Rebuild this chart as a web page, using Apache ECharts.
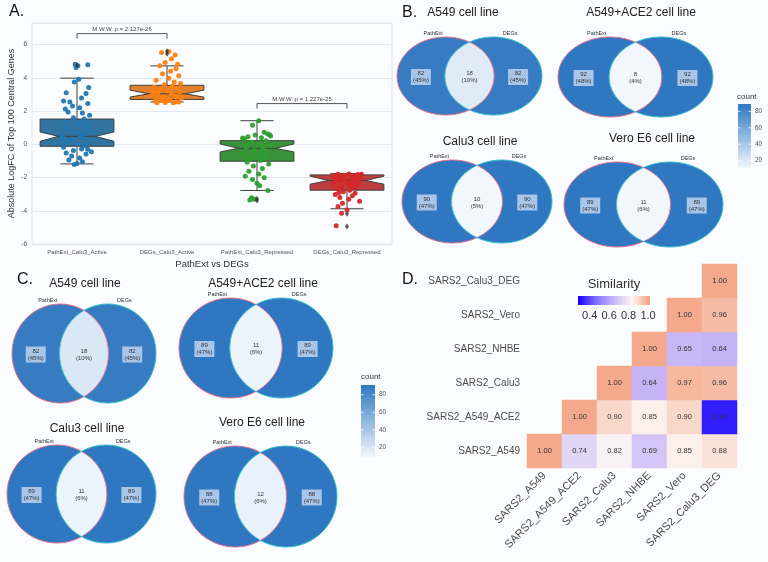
<!DOCTYPE html>
<html><head><meta charset="utf-8">
<script src="https://cdn.jsdelivr.net/npm/echarts@6/dist/echarts.min.js"></script>
<style>html,body{margin:0;padding:0;background:#fbfcfe}#c{width:768px;height:562px}</style>
</head><body><div id="c"></div>
<script>
// ---------------- Panel A data ----------------
const boxCategories = ['PathExt_Calu3_Active','DEGs_Calu3_Active','PathExt_Calu3_Repressed','DEGs_Calu3_Repressed'];
// [low whisker, q1, median, q3, high whisker, notch low, notch high]
const boxStats = [
  [-1.18, -0.12, 0.48, 1.52, 3.98, 0.18, 0.74],
  [2.55, 2.70, 3.04, 3.55, 4.72, 2.84, 3.26],
  [-2.78, -1.02, -0.24, 0.22, 1.42, -0.46, 0.02],
  [-3.88, -2.76, -2.18, -1.84, -1.76, -2.40, -1.92]
];
const boxOutliers = [[0,4.75],[1,5.6],[1,5.45],[2,-3.28],[2,-3.38],[3,-4.18],[3,-4.95]];
const stripBlue = [[-0.02,4.82],[0.01,4.72],[-0.01,4.62],[0.12,4.78],[0.02,3.92],[-0.03,3.75],[0.13,3.42],[-0.12,3.1],[0.1,3.05],[0.05,2.78],[-0.15,2.6],[-0.08,2.55],[0.12,2.45],[-0.05,2.3],[0.03,2.2],[-0.13,2.12],[-0.1,1.95],[0.06,1.88],[0.14,1.75],[-0.04,1.6],[0.08,1.52],[-0.14,1.35],[0.02,1.2],[0.11,1.05],[-0.09,0.95],[0.15,0.8],[-0.02,0.72],[0.07,0.6],[-0.16,0.5],[0.04,0.42],[-0.07,0.3],[0.13,0.22],[-0.11,0.12],[0.0,0.02],[0.09,-0.08],[-0.15,-0.18],[0.05,-0.28],[-0.04,-0.38],[0.16,-0.45],[-0.12,-0.52],[0.1,-0.58],[-0.06,-0.7],[0.03,-0.82],[-0.09,-0.95],[0.06,-1.05],[0.0,-1.15],[-0.03,-1.22],[0.12,-0.3],[-0.17,0.35],[0.08,1.3]];
const stripOrange = [[0.02,5.58],[-0.06,5.52],[0.09,5.38],[0.05,5.15],[-0.02,4.92],[0.12,4.82],[-0.08,4.72],[0.1,4.55],[0.04,4.4],[-0.05,4.25],[0.13,4.12],[0.02,3.98],[-0.12,3.85],[0.08,3.75],[0.15,3.66],[-0.03,3.58],[0.06,3.5],[-0.14,3.44],[0.11,3.38],[-0.07,3.3],[0.0,3.22],[0.14,3.15],[-0.1,3.08],[0.05,3.02],[-0.16,2.96],[0.09,2.9],[-0.04,2.84],[0.16,2.78],[-0.09,2.72],[0.03,2.66],[-0.13,2.61],[0.1,2.56],[-0.02,2.52],[0.07,2.5],[-0.11,2.5],[0.13,2.55],[-0.05,2.64],[0.01,2.7],[0.11,2.88],[-0.15,3.12]];
const stripGreen = [[0.02,1.42],[-0.05,1.15],[0.08,0.72],[0.12,0.62],[-0.02,0.56],[0.15,0.5],[-0.1,0.46],[0.05,0.4],[-0.14,0.32],[0.1,0.22],[-0.06,0.12],[0.03,0.02],[0.16,-0.08],[-0.12,-0.18],[0.07,-0.28],[-0.03,-0.38],[0.11,-0.48],[-0.15,-0.58],[0.0,-0.68],[0.09,-0.78],[-0.08,-0.88],[0.04,-0.98],[-0.11,-1.08],[0.13,-1.18],[-0.04,-1.3],[0.06,-1.45],[-0.09,-1.62],[0.02,-1.78],[-0.13,-1.92],[0.08,-2.02],[-0.05,-2.12],[0.0,-2.35],[0.03,-2.5],[0.12,-2.78],[-0.06,-3.22],[-0.03,-3.3],[-0.08,-3.35],[0.14,0.58],[-0.16,0.38],[0.06,-0.12]];
const stripRed = [[0.02,-1.78],[-0.1,-1.8],[0.12,-1.82],[-0.04,-1.86],[0.07,-1.9],[-0.14,-1.94],[0.15,-1.98],[-0.07,-2.02],[0.04,-2.06],[-0.12,-2.1],[0.1,-2.14],[-0.02,-2.18],[0.13,-2.22],[-0.09,-2.26],[0.06,-2.3],[-0.15,-2.35],[0.01,-2.4],[0.11,-2.46],[-0.06,-2.52],[0.08,-2.6],[-0.11,-2.68],[0.03,-2.76],[-0.04,-2.85],[0.09,-2.95],[-0.13,-3.02],[0.06,-3.1],[-0.08,-3.2],[0.02,-3.3],[0.14,-3.42],[-0.05,-3.55],[-0.1,-3.75],[0.0,-3.95],[-0.06,-4.15],[-0.12,-4.9],[0.16,-1.8],[-0.16,-1.88],[0.09,-2.03],[-0.03,-2.16],[0.05,-2.5],[-0.09,-2.9]];
const yTicksA = [-6,-4,-2,0,2,4,6];
const tests = [[0,1,6.66,'M.W.W. p = 2.127e-26'],[2,3,2.45,'M.W.W. p = 1.227e-25']];

// ---------------- Panels B / C data ----------------
const vennSets = ['PathExt','DEGs'];
const vennTitlesB = ['A549 cell line','A549+ACE2 cell line','Calu3 cell line','Vero E6 cell line'];
const vennCountsB = [[82,18,82],[92,8,92],[90,10,90],[89,11,89]];
const vennPctsB   = [[45,10,45],[48,4,48],[47,5,47],[47,6,47]];
const vennTitlesC = ['A549 cell line','A549+ACE2 cell line','Calu3 cell line','Vero E6 cell line'];
const vennCountsC = [[82,18,82],[89,11,89],[89,11,89],[88,12,88]];
const vennPctsC   = [[45,10,45],[47,6,47],[47,6,47],[47,6,47]];
const countTicks = [20,40,60,80];

// ---------------- Panel D data ----------------
const simLabels = ['SARS2_A549','SARS2_A549_ACE2','SARS2_Calu3','SARS2_NHBE','SARS2_Vero','SARS2_Calu3_DEG'];
const simMatrix = [
  [1.00,0.74,0.82,0.69,0.85,0.88],
  [null,1.00,0.90,0.85,0.90,0.33],
  [null,null,1.00,0.64,0.97,0.96],
  [null,null,null,1.00,0.65,0.64],
  [null,null,null,null,1.00,0.96],
  [null,null,null,null,null,1.00]
];
const simTicks = [0.4,0.6,0.8,1.0];

// ---------------- styles ----------------
const FONT = '"Liberation Sans", Arial, sans-serif';
const boxFill = ['#3274a1','#e1812c','#3a923a','#c03d3e'];
const pointColors = ['#1f77b4','#ff7f0e','#2ca02c','#d62728'];
const edge = '#3f3f3f';
const vennScale = ['#f1f7fd','#2f77c0'];
const simColors = ['#1400ff','#8070f8','#c9b7f6','#fdf7f5','#f3a07f'];
const vennRange = {B:[11,85], C:[9,85]};
const simRange = [0.28,1.02];

// layout boxes (pixels) -- styling only
const vennBoxesB = [[397,37,145,78],[558,37,155,80],[402,160,150,83],[564,162,159,85]];
const vennBoxesC = [[12,304,144,99],[179,298,154,100],[7,445,149,98],[184,446,153,101]];
const vennTitlePosB = [[463,13],[641,13],[480,142],[652,139]];
const vennTitlePosC = [[85,284],[263,284],[87,429],[262,423]];

const grids = [], xAxes = [], yAxes = [], series = [], graphics = [];

// ---------- Panel A ----------
grids.push({left:32, top:23, width:360, height:221, show:true, borderColor:'#e4e7eb', borderWidth:1, backgroundColor:'transparent'});
xAxes.push({type:'category', gridIndex:0, data:boxCategories, axisLine:{show:false}, axisTick:{show:false},
  axisLabel:{fontSize:6, color:'#555', margin:5, interval:0},
  name:'PathExt vs DEGs', nameLocation:'middle', nameGap:15, nameTextStyle:{fontSize:9.5, color:'#333'}});
xAxes.push({type:'value', gridIndex:0, min:-0.5, max:3.5, show:false});
yAxes.push({type:'value', gridIndex:0, min:-6, max:7.3, interval:2,
  axisLine:{show:false}, axisTick:{show:false},
  axisLabel:{fontSize:6.5, color:'#555', margin:5, customValues:yTicksA},
  splitLine:{lineStyle:{color:'#e4e7eb', width:1}},
  name:'Absolute LogFC of Top 100 Central Genes', nameLocation:'middle', nameGap:16, nameTextStyle:{fontSize:9, color:'#333'}});

series.push({type:'custom', xAxisIndex:0, yAxisIndex:0, silent:true, z:2,
  data: boxStats.map((s,i)=>[i].concat(s)),
  renderItem(params, api){
    const i = api.value(0);
    const v = k => api.value(k);
    const lo=v(1), q1=v(2), med=v(3), q3=v(4), hi=v(5), nl=v(6), nh=v(7);
    const cx = api.coord([i, med])[0];
    const y = val => api.coord([i, val])[1];
    const bw = api.size([1,0])[0]*0.82;
    const h = bw/2, n2 = h*0.5, cap = h*0.45;
    const pts = [[cx-h,y(q1)],[cx-h,y(nl)],[cx-n2,y(med)],[cx-h,y(nh)],[cx-h,y(q3)],[cx+h,y(q3)],[cx+h,y(nh)],[cx+n2,y(med)],[cx+h,y(nl)],[cx+h,y(q1)]];
    const st = {stroke:edge, lineWidth:1};
    return {type:'group', children:[
      {type:'line', shape:{x1:cx,y1:y(q3),x2:cx,y2:y(hi)}, style:st},
      {type:'line', shape:{x1:cx,y1:y(q1),x2:cx,y2:y(lo)}, style:st},
      {type:'line', shape:{x1:cx-cap,y1:y(hi),x2:cx+cap,y2:y(hi)}, style:st},
      {type:'line', shape:{x1:cx-cap,y1:y(lo),x2:cx+cap,y2:y(lo)}, style:st},
      {type:'polygon', shape:{points:pts}, style:{fill:boxFill[i], stroke:edge, lineWidth:1}},
      {type:'line', shape:{x1:cx-n2,y1:y(med),x2:cx+n2,y2:y(med)}, style:st}
    ]};
  }});
[stripBlue, stripOrange, stripGreen, stripRed].forEach((arr, i)=>{
  series.push({type:'scatter', xAxisIndex:1, yAxisIndex:0, silent:true, z:3, symbolSize:5,
    itemStyle:{color:pointColors[i], opacity:0.95},
    data: arr.map(([j,val])=>[i+j, val])});
});
series.push({type:'scatter', xAxisIndex:1, yAxisIndex:0, silent:true, z:4, symbol:'diamond', symbolSize:[4,6],
  itemStyle:{color:'#333'}, data: boxOutliers});
series.push({type:'custom', xAxisIndex:1, yAxisIndex:0, silent:true, z:5,
  data: tests.map(t=>[t[0],t[1],t[2]]),
  renderItem(params, api){
    const a = api.coord([api.value(0), api.value(2)]), b = api.coord([api.value(1), api.value(2)]);
    const drop = api.size([0,0.3])[1];
    return {type:'group', children:[
      {type:'polyline', shape:{points:[[a[0],a[1]+drop],[a[0],a[1]],[b[0],b[1]],[b[0],b[1]+drop]]}, style:{stroke:'#555', fill:null, lineWidth:1}},
      {type:'text', x:(a[0]+b[0])/2, y:a[1]-1.5, style:{text:tests[params.dataIndex][3], align:'center', verticalAlign:'bottom', fontSize:6, fill:'#444', fontFamily:FONT}}
    ]};
  }});

// ---------- Venn panels ----------
function vennRender(params, api){
  const region = api.value(0), count = api.value(2), pct = api.value(3);
  const p0 = api.coord([0,0]), p1 = api.coord([1,1]);
  const W = p1[0]-p0[0], H = p0[1]-p1[1], L = p0[0], T = p1[1];
  const a = 0.67, rx = a*W/2, ry = H/2, cy = T + H/2;
  const cxL = L + rx, cxR = L + W - rx;
  const t0 = Math.acos(((cxR-cxL)/2)/rx);
  const N = 60;
  const arc = (cx, s, e) => { const out=[]; for(let k=0;k<=N;k++){const t=s+(e-s)*k/N; out.push([cx+rx*Math.cos(t), cy-ry*Math.sin(t)]);} return out; };
  let pts;
  if (region===0) pts = arc(cxL, t0, 2*Math.PI-t0).concat(arc(cxR, Math.PI+t0, Math.PI-t0));
  else if (region===1) pts = arc(cxL, -t0, t0).concat(arc(cxR, Math.PI-t0, Math.PI+t0));
  else pts = arc(cxR, Math.PI-t0, t0-Math.PI).concat(arc(cxL, -t0, t0));
  const children = [{type:'polygon', shape:{points:pts}, style:{fill:api.visual('color'), stroke:null}}];
  const lx = [0.165, 0.5, 0.835][region];
  children.push({type:'text', x:L+lx*W, y:cy+1, z2:30, style:{text:count+'\n('+pct+'%)', align:'center', verticalAlign:'middle',
    fontSize:6, lineHeight:7, fill:'#333', fontFamily:FONT, backgroundColor: region===1 ? null : '#a9c5e8', padding:[1,2]}});
  if (region===0){
    children.push({type:'polygon', z2:20, shape:{points:arc(cxL,0,2*Math.PI)}, style:{fill:null, stroke:'#e0728d', lineWidth:1}});
    children.push({type:'text', x:L+0.25*W, y:T-1, z2:30, style:{text:vennSets[0], align:'center', verticalAlign:'bottom', fontSize:5.5, fill:'#333', fontFamily:FONT}});
  }
  if (region===2){
    children.push({type:'polygon', z2:21, shape:{points:arc(cxR,0,2*Math.PI)}, style:{fill:null, stroke:'#36c2cc', lineWidth:1}});
    children.push({type:'text', x:L+0.78*W, y:T-1, z2:30, style:{text:vennSets[1], align:'center', verticalAlign:'bottom', fontSize:5.5, fill:'#333', fontFamily:FONT}});
  }
  return {type:'group', children};
}
const vennSeriesIdx = {B:[], C:[]};
function addVenns(key, boxes, counts, pcts, titles, titlePos){
  boxes.forEach((b, k)=>{
    const g = grids.length;
    grids.push({left:b[0], top:b[1], width:b[2], height:b[3]});
    const xi = xAxes.length, yi = yAxes.length;
    xAxes.push({type:'value', gridIndex:g, min:0, max:1, show:false});
    yAxes.push({type:'value', gridIndex:g, min:0, max:1, show:false});
    vennSeriesIdx[key].push(series.length);
    series.push({type:'custom', xAxisIndex:xi, yAxisIndex:yi, silent:true, clip:false,
      data:[0,1,2].map(r=>[r,0.5,counts[k][r],pcts[k][r]]), renderItem:vennRender});
    graphics.push({type:'text', x:titlePos[k][0], y:titlePos[k][1], style:{text:titles[k], align:'center', verticalAlign:'middle', fontSize:12, fill:'#222', fontFamily:FONT}});
  });
}
addVenns('B', vennBoxesB, vennCountsB, vennPctsB, vennTitlesB, vennTitlePosB);
addVenns('C', vennBoxesC, vennCountsC, vennPctsC, vennTitlesC, vennTitlePosC);

// colour bars for count
function addColorbar(box, range, labelPos){
  const g = grids.length;
  grids.push({left:box[0], top:box[1], width:box[2], height:box[3]});
  const xi = xAxes.length, yi = yAxes.length;
  xAxes.push({type:'value', gridIndex:g, min:0, max:1, show:false});
  yAxes.push({type:'value', gridIndex:g, min:range[0], max:range[1], position:'right',
    axisLine:{show:false}, axisTick:{show:false}, splitLine:{show:false},
    axisLabel:{fontSize:6.5, color:'#555', margin:4, customValues:countTicks}});
  series.push({type:'custom', xAxisIndex:xi, yAxisIndex:yi, silent:true, clip:false,
    data:[[0, range[0]]],
    renderItem(params, api){
      const tl = api.coord([0, range[1]]), br = api.coord([1, range[0]]);
      const ch = [{type:'rect', shape:{x:tl[0], y:tl[1], width:br[0]-tl[0], height:br[1]-tl[1]},
        style:{fill:{type:'linear', x:0, y:1, x2:0, y2:0, colorStops:[{offset:0,color:vennScale[0]},{offset:1,color:vennScale[1]}]}}}];
      countTicks.forEach(t=>{
        const yy = api.coord([0,t])[1];
        ch.push({type:'line', shape:{x1:tl[0], y1:yy, x2:tl[0]+2.5, y2:yy}, style:{stroke:'#fff', lineWidth:0.8}});
        ch.push({type:'line', shape:{x1:br[0]-2.5, y1:yy, x2:br[0], y2:yy}, style:{stroke:'#fff', lineWidth:0.8}});
      });
      return {type:'group', children:ch};
    }});
  graphics.push({type:'text', x:labelPos[0], y:labelPos[1], style:{text:'count', align:'left', verticalAlign:'middle', fontSize:8, fill:'#333', fontFamily:FONT}});
}
addColorbar([738,104,13,64], [11,89], [737,97]);
addColorbar([361,385,14,72], [9,91], [361,377]);

// ---------- Panel D ----------
const gD = grids.length;
grids.push({left:527, top:264, width:210, height:204});
const xD = xAxes.length, yD = yAxes.length;
xAxes.push({type:'category', gridIndex:gD, data:simLabels, axisLine:{show:false}, axisTick:{show:false}, splitLine:{show:false},
  axisLabel:{rotate:45, fontSize:11, color:'#4d4d4d', margin:6, interval:0}});
yAxes.push({type:'category', gridIndex:gD, data:simLabels, axisLine:{show:false}, axisTick:{show:false}, splitLine:{show:false},
  axisLabel:{fontSize:10, color:'#4d4d4d', margin:7, interval:0}});
const heatData = [];
simMatrix.forEach((row, r)=>row.forEach((val, c)=>{ if (val !== null) heatData.push([c, r, val]); }));
const heatIdx = series.length;
series.push({type:'heatmap', xAxisIndex:xD, yAxisIndex:yD, data:heatData, silent:true,
  itemStyle:{borderWidth:0},
  label:{show:true, formatter:p=>p.value[2].toFixed(2), fontSize:7.5, color:'#333', fontFamily:FONT}});

const gL = grids.length;
grids.push({left:578, top:296, width:72, height:9});
const xL = xAxes.length, yL = yAxes.length;
xAxes.push({type:'value', gridIndex:gL, min:simRange[0], max:simRange[1], axisLine:{show:false}, axisTick:{show:false}, splitLine:{show:false},
  axisLabel:{fontSize:11, color:'#333', margin:5, customValues:simTicks, formatter:v=>v.toFixed(1)}});
yAxes.push({type:'value', gridIndex:gL, min:0, max:1, show:false});
series.push({type:'custom', xAxisIndex:xL, yAxisIndex:yL, silent:true, clip:false, data:[[simRange[0],0]],
  renderItem(params, api){
    const a = api.coord([simRange[0],1]), b = api.coord([simRange[1],0]);
    return {type:'rect', shape:{x:a[0], y:a[1], width:b[0]-a[0], height:b[1]-a[1]},
      style:{fill:{type:'linear', x:0, y:0, x2:1, y2:0, colorStops:simColors.map((c,i)=>({offset:i/(simColors.length-1), color:c}))}}};
  }});
graphics.push({type:'text', x:614, y:284, style:{text:'Similarity', align:'center', verticalAlign:'middle', fontSize:13, fill:'#333', fontFamily:FONT}});

// panel letters
[['A.',9,12],['B.',402,13],['C.',17,280],['D.',402,280]].forEach(([t,x,y])=>{
  graphics.push({type:'text', x, y, style:{text:t, align:'left', verticalAlign:'middle', fontSize:16, fill:'#111', fontFamily:FONT}});
});

const chart = echarts.init(document.getElementById('c'), null, {renderer:'canvas'});
chart.setOption({
  animation:false,
  backgroundColor:'#fbfcfe',
  textStyle:{fontFamily:FONT},
  grid:grids, xAxis:xAxes, yAxis:yAxes, series,
  visualMap:[
    {type:'continuous', show:false, seriesIndex:vennSeriesIdx.B, dimension:2, min:vennRange.B[0], max:vennRange.B[1], inRange:{color:vennScale}},
    {type:'continuous', show:false, seriesIndex:vennSeriesIdx.C, dimension:2, min:vennRange.C[0], max:vennRange.C[1], inRange:{color:vennScale}},
    {type:'continuous', show:false, seriesIndex:heatIdx, dimension:2, min:simRange[0], max:simRange[1], inRange:{color:simColors}}
  ],
  graphic:graphics
});
</script></body></html>
